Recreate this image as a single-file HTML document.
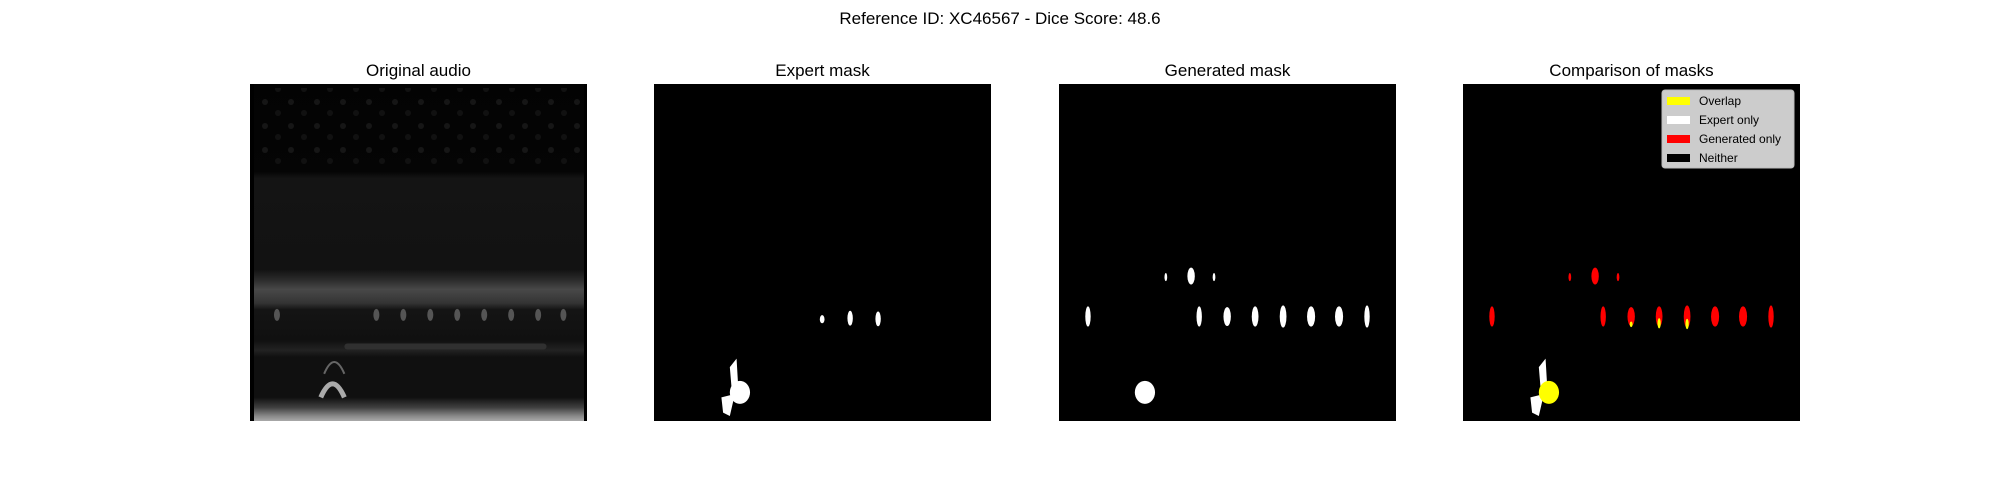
<!DOCTYPE html>
<html><head><meta charset="utf-8"><style>
body{margin:0;background:#fff;font-family:"Liberation Sans","DejaVu Sans",sans-serif;}
#c{position:relative;width:2000px;height:500px;overflow:hidden}
</style></head><body>
<div id="c">
<svg width="2000" height="500" xmlns="http://www.w3.org/2000/svg">
<defs>
<linearGradient id="spec" x1="0" y1="0" x2="0" y2="1">
<stop offset="0" stop-color="#030303"/>
<stop offset="0.26" stop-color="#050505"/>
<stop offset="0.28" stop-color="#141414"/>
<stop offset="0.55" stop-color="#121212"/>
<stop offset="0.58" stop-color="#2a2a2a"/>
<stop offset="0.61" stop-color="#484848"/>
<stop offset="0.65" stop-color="#343434"/>
<stop offset="0.67" stop-color="#141414"/>
<stop offset="0.76" stop-color="#101010"/>
<stop offset="0.79" stop-color="#222"/>
<stop offset="0.81" stop-color="#101010"/>
<stop offset="0.93" stop-color="#101010"/>
<stop offset="0.96" stop-color="#404040"/>
<stop offset="0.985" stop-color="#888"/>
<stop offset="1" stop-color="#aaa"/>
</linearGradient>
<pattern id="dots" width="26" height="24" patternUnits="userSpaceOnUse">
<circle cx="5" cy="6" r="3" fill="#1a1a1a"/><circle cx="18" cy="17" r="3" fill="#141414"/>
</pattern>
</defs>
<text x="1000" y="24" text-anchor="middle" font-size="17" fill="#000">Reference ID: XC46567 - Dice Score: 48.6</text>
<g id="panels"></g>
</svg>
</div>
<script>
const panelX=[250,654,1059,1463];
const panelTitles=["Original audio","Expert mask","Generated mask","Comparison of masks"];
const PY=84, PS=337;
// blob data in fractions of panel (cx, cy, rx, ry)
const expertBlobs=[[0.499,0.698,0.007,0.012],[0.582,0.695,0.008,0.022],[0.665,0.697,0.008,0.022]];
const generatedBlobs=[[0.086,0.69,0.008,0.03],[0.317,0.573,0.004,0.012],[0.392,0.57,0.011,0.025],[0.46,0.573,0.004,0.012],[0.416,0.69,0.008,0.03],[0.499,0.69,0.011,0.028],[0.582,0.69,0.01,0.03],[0.665,0.69,0.01,0.033],[0.748,0.69,0.012,0.03],[0.831,0.69,0.012,0.03],[0.914,0.69,0.008,0.033]];
const bigBlob=[0.255,0.915,0.03,0.034];
const legendLabels=["Overlap","Expert only","Generated only","Neither"];
const legendColors=["#ffff00","#ffffff","#ff0000","#000000"];
const NS="http://www.w3.org/2000/svg";
const g=document.getElementById('panels');
function mk(t,a,p){const e=document.createElementNS(NS,t);for(const k in a)e.setAttribute(k,a[k]);(p||g).appendChild(e);return e;}
function X(i,f){return panelX[i]+f*PS;} function Y(f){return PY+f*PS;}
panelX.forEach((x,i)=>{
  const t=mk('text',{x:x+PS/2,y:76,'text-anchor':'middle','font-size':'17',fill:'#000'});t.textContent=panelTitles[i];
  
  
  const r=mk('rect',{x:x,y:PY,width:PS,height:PS,fill:i==0?'url(#spec)':'#000'});
  
  
});
// spectrogram details
const sp=mk('g',{});


mk('rect',{x:panelX[0]+6,y:PY+4,width:PS-12,height:PS*0.24,fill:'url(#dots)',opacity:0.8},sp);
mk('rect',{x:panelX[0],y:PY,width:4,height:PS,fill:'#000'},sp);
mk('rect',{x:panelX[0]+PS-3,y:PY,width:3,height:PS,fill:'#000'},sp);
[0.08,0.375,0.455,0.535,0.615,0.695,0.775,0.855,0.93].forEach(f=>{mk('ellipse',{cx:X(0,f),cy:Y(0.685),rx:3,ry:6,fill:'#555'},sp);});
mk('rect',{x:X(0,0.28),y:Y(0.77),width:PS*0.6,height:6,fill:'#303030',rx:3},sp);
mk('path',{d:`M${X(0,0.21)} ${Y(0.93)} Q${X(0,0.245)} ${Y(0.85)} ${X(0,0.28)} ${Y(0.93)}`,stroke:'#aaa','stroke-width':5,fill:'none'},sp);
mk('path',{d:`M${X(0,0.22)} ${Y(0.86)} Q${X(0,0.25)} ${Y(0.79)} ${X(0,0.28)} ${Y(0.86)}`,stroke:'#666','stroke-width':2,fill:'none'},sp);
function blob(i,b,c,n){const e=mk('ellipse',{cx:X(i,b[0]),cy:Y(b[1]),rx:b[2]*PS,ry:b[3]*PS,fill:c});
  
  }
function big(i,c1,c2){
  const p=mk('path',{d:`M${X(i,0.225)} ${Y(0.84)} L${X(i,0.245)} ${Y(0.815)} L${X(i,0.25)} ${Y(0.9)} L${X(i,0.23)} ${Y(0.9)} Z M${X(i,0.2)} ${Y(0.93)} L${X(i,0.24)} ${Y(0.92)} L${X(i,0.225)} ${Y(0.985)} L${X(i,0.205)} ${Y(0.975)} Z`,fill:c1});
  
  
  blob(i,bigBlob,c2,'large-blob');
}
expertBlobs.forEach(b=>blob(1,b,'#fff','expert-blob'));
big(1,'#fff','#fff');
generatedBlobs.forEach(b=>blob(2,b,'#fff','generated-blob'));
blob(2,bigBlob,'#fff','generated-large-blob');
generatedBlobs.forEach(b=>blob(3,b,'#f00','generated-only-blob'));
expertBlobs.forEach(b=>blob(3,[b[0],b[1]+0.015,b[2]*0.6,b[3]*0.7],'#ff0','overlap-blob'));
big(3,'#fff','#ff0');
// legend
const lg=mk('g',{});


mk('rect',{x:1662,y:90,width:132,height:78,rx:3,fill:'#cccccc',stroke:'#bbb'},lg);
legendLabels.forEach((l,k)=>{
  const y=100+k*19;
  const s=mk('rect',{x:1667,y:y-3,width:23,height:8,fill:legendColors[k]},lg);
  
  
  const t=mk('text',{x:1699,y:y+5,'font-size':'12',fill:'#000'},lg);t.textContent=l;
  
  
});
</script>
</body></html>
